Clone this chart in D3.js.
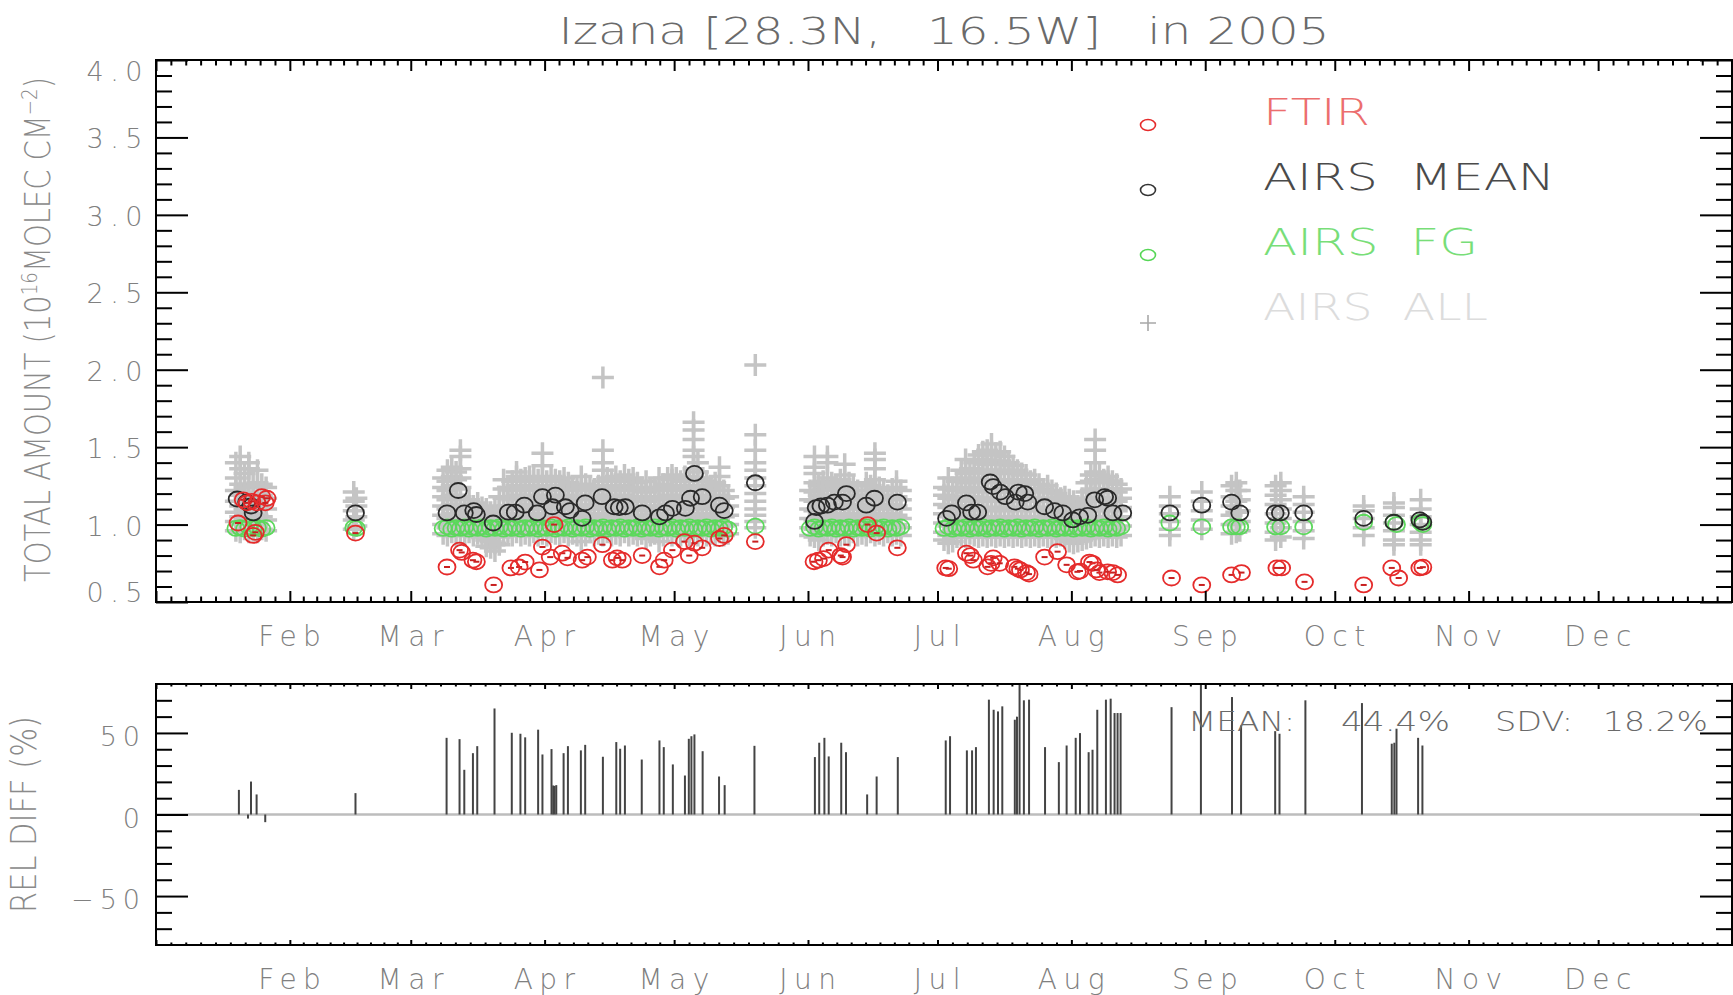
<!DOCTYPE html>
<html>
<head>
<meta charset="utf-8">
<script src="https://cdn.jsdelivr.net/npm/d3@7"></script>
<style>
  html, body { margin: 0; padding: 0; background: #fff; }
  svg { display: block; }
  text { font-weight: 200; }
</style>
</head>
<body>
<svg id="chart" width="1733" height="995"></svg>
<script>
// ---------------------------------------------------------------
// Izana CO total column, 2005: FTIR vs AIRS
// Dates are day-of-year (1 = 1 Jan 2005), fractional where the
// observation falls part way through a day.
// ---------------------------------------------------------------

const monthLabels = ["Feb","Mar","Apr","May","Jun","Jul","Aug","Sep","Oct","Nov","Dec"];
const amountTicks = [0.5, 1.0, 1.5, 2.0, 2.5, 3.0, 3.5, 4.0];
const diffTicks = [-50, 0, 50];
const diffTickLabels = ["\u221250", "0", "50"];

// FTIR ground-based retrievals [day, total amount]
const ftir = [
  [20.0,1.01],[21.2,1.16],[22.1,1.14],[23.2,1.15],[24.4,1.14],[25.5,1.18],[26.3,1.14],[26.7,1.17],
  [23.5,0.93],[24.0,0.95],
  [47.2,0.945],
  [68.4,0.726],[71.3,0.835],[71.8,0.82],[74.4,0.77],[75.2,0.76],[79.2,0.61],[83.2,0.72],
  [85.1,0.726],[86.5,0.758],[89.8,0.707],[90.5,0.855],[92.3,0.79],[93.2,1.0],[95.1,0.815],[96.3,0.785],
  [99.7,0.77],[100.9,0.79],[104.4,0.87],[106.7,0.77],[107.8,0.785],[109.0,0.77],[113.6,0.80],[117.6,0.727],
  [118.7,0.77],[120.6,0.835],[123.4,0.89],[124.5,0.80],[125.7,0.88],[127.5,0.85],[131.5,0.91],[132.6,0.93],
  [139.8,0.89],
  [153.4,0.76],[154.4,0.77],[155.6,0.78],[156.8,0.835],[159.6,0.80],[160.0,0.79],[160.9,0.87],[165.8,1.0],
  [167.9,0.945],[172.7,0.85],
  [183.9,0.72],[184.6,0.715],[188.7,0.815],[189.6,0.80],[190.3,0.77],[193.6,0.727],[194.4,0.75],[194.9,0.785],
  [196.4,0.75],[199.8,0.727],[200.6,0.715],[201.2,0.707],[202.6,0.69],[203.2,0.68],[206.8,0.79],[209.8,0.825],
  [211.9,0.74],[214.4,0.695],[215.0,0.70],[217.2,0.758],[217.9,0.75],[218.8,0.707],[219.5,0.69],[221.4,0.695],
  [222.6,0.69],[223.7,0.675],
  [236.2,0.655],[243.2,0.61],[250.1,0.675],[252.4,0.69],[260.6,0.72],[261.7,0.72],[267.0,0.63],[280.7,0.61],
  [287.2,0.72],[288.8,0.655],[293.7,0.72],[294.4,0.725]
];

// AIRS daily mean over the site [day, total amount]
const airsMean = [
  [19.8,1.165],[22.0,1.145],[23.0,1.12],[23.5,1.075],
  [47.2,1.075],
  [68.4,1.075],[71.0,1.22],[72.4,1.075],[74.6,1.09],[75.2,1.065],[79.1,1.01],[82.6,1.08],
  [84.2,1.08],[86.3,1.125],[89.3,1.075],[90.5,1.18],[92.8,1.115],[93.5,1.19],[95.8,1.115],[96.9,1.09],
  [99.7,1.04],[100.4,1.14],[104.3,1.18],[107.1,1.115],[108.3,1.11],[109.7,1.115],[113.6,1.075],[117.6,1.05],
  [119.0,1.075],[120.6,1.105],[123.6,1.105],[124.8,1.17],[125.7,1.33],[127.5,1.18],[131.5,1.125],[132.6,1.09],
  [139.8,1.27],
  [153.5,1.02],[153.9,1.11],[155.0,1.12],[156.5,1.125],[158.1,1.145],[160.0,1.145],[160.9,1.20],[165.5,1.125],
  [167.4,1.17],[172.7,1.145],
  [184.1,1.04],[185.3,1.075],[188.7,1.14],[189.9,1.08],[191.3,1.08],[194.2,1.275],[194.9,1.245],[196.5,1.21],
  [197.7,1.18],[200.0,1.145],[200.7,1.21],[202.2,1.20],[202.9,1.145],[206.8,1.115],[209.1,1.09],[211.0,1.075],
  [213.3,1.03],[214.9,1.05],[216.8,1.06],[218.4,1.16],[220.7,1.18],[221.4,1.17],[222.6,1.075],[224.9,1.075],
  [235.8,1.075],[243.2,1.125],[250.1,1.145],[252.0,1.075],[260.2,1.075],[261.4,1.075],[266.8,1.075],
  [280.7,1.04],[287.7,1.015],[293.7,1.03],[294.4,1.015]
];

// AIRS first guess [day, total amount]
const airsFg = [
  [19.5,0.975],[20.5,0.98],[21.5,0.97],[22.5,0.985],[23.5,0.975],[24.5,0.98],[25.5,0.97],[26.5,0.98],
  [46.8,0.98],[47.4,0.975],
  [67.5,0.975],[68.5,0.985],[69.5,0.97],[70.5,0.98],[71.5,0.975],[72.5,0.985],[73.5,0.97],[74.5,0.98],
  [75.5,0.975],[76.5,0.985],[77.5,0.97],[78.5,0.98],[79.5,0.975],[80.5,0.985],[81.5,0.97],[82.5,0.98],
  [83.5,0.975],[84.5,0.985],[85.5,0.97],[86.5,0.98],[87.5,0.975],[88.5,0.985],[89.5,0.97],[90.5,0.98],
  [91.5,0.975],[92.5,0.985],[93.5,0.97],[94.5,0.98],[95.5,0.975],[96.5,0.985],[97.5,0.97],[98.5,0.98],
  [99.5,0.975],[100.5,0.985],[101.5,0.97],[102.5,0.98],[103.5,0.975],[104.5,0.985],[105.5,0.97],[106.5,0.98],
  [107.5,0.975],[108.5,0.985],[109.5,0.97],[110.5,0.98],[111.5,0.975],[112.5,0.985],[113.5,0.97],[114.5,0.98],
  [115.5,0.975],[116.5,0.985],[117.5,0.97],[118.5,0.98],[119.5,0.975],[120.5,0.985],[121.5,0.97],[122.5,0.98],
  [123.5,0.975],[124.5,0.985],[125.5,0.97],[126.5,0.98],[127.5,0.975],[128.5,0.985],[129.5,0.97],[130.5,0.98],
  [131.5,0.975],[132.5,0.985],[133.5,0.97],
  [139.8,0.99],
  [152.5,0.975],[153.5,0.985],[154.5,0.97],[155.5,0.98],[156.5,0.975],[157.5,0.985],[158.5,0.97],[159.5,0.98],
  [160.5,0.975],[161.5,0.985],[162.5,0.97],[163.5,0.98],[164.5,0.975],[165.5,0.985],[166.5,0.97],[167.5,0.98],
  [168.5,0.975],[169.5,0.985],[170.5,0.97],[171.5,0.98],[172.5,0.975],[173.5,0.985],
  [183.5,0.975],[184.5,0.985],[185.5,0.97],[186.5,0.98],[187.5,0.975],[188.5,0.985],[189.5,0.97],[190.5,0.98],
  [191.5,0.975],[192.5,0.985],[193.5,0.97],[194.5,0.98],[195.5,0.975],[196.5,0.985],[197.5,0.97],[198.5,0.98],
  [199.5,0.975],[200.5,0.985],[201.5,0.97],[202.5,0.98],[203.5,0.975],[204.5,0.985],[205.5,0.97],[206.5,0.98],
  [207.5,0.975],[208.5,0.985],[209.5,0.97],[210.5,0.98],[211.5,0.975],[212.5,0.985],[213.5,0.97],[214.5,0.98],
  [215.5,0.975],[216.5,0.985],[217.5,0.97],[218.5,0.98],[219.5,0.975],[220.5,0.985],[221.5,0.97],[222.5,0.98],
  [223.5,0.975],[224.5,0.985],
  [235.8,1.01],[243.2,0.985],[250.1,0.985],[251.2,0.985],[252.0,0.985],[260.3,0.985],[261.5,0.985],
  [266.8,0.985],[280.7,1.015],[287.7,1.015],[288.3,1.0],[293.9,1.015],[294.4,1.0]
];

// Every AIRS retrieval near the site [day, [total amounts]]
const airsAll = [
  [19.5,[0.96,1.02,1.08,1.15,1.22,1.30,1.40]],
  [20.5,[0.95,1.00,1.05,1.12,1.19,1.26,1.36,1.44]],
  [21.5,[0.97,1.03,1.10,1.17,1.24,1.33]],
  [22.5,[0.95,1.01,1.07,1.14,1.20,1.26,1.36,1.40]],
  [23.5,[0.96,1.04,1.11,1.18,1.25]],
  [24.5,[0.95,1.00,1.06,1.13,1.20,1.27,1.35]],
  [25.5,[0.97,1.05,1.12,1.19,1.26]],
  [26.5,[0.96,1.03,1.10,1.17,1.24]],
  [46.8,[0.97,1.03,1.09,1.15,1.21]],
  [47.4,[0.99,1.05,1.12,1.17]],
  [67.5,[0.94,1.00,1.06,1.12,1.18,1.24,1.30]],
  [68.5,[0.93,0.98,1.04,1.10,1.16,1.22,1.28,1.35]],
  [69.5,[0.95,1.01,1.07,1.13,1.19,1.25,1.31,1.37]],
  [70.5,[0.93,0.99,1.05,1.11,1.17,1.23,1.29,1.34]],
  [71.5,[0.94,1.00,1.06,1.12,1.18,1.24,1.30,1.36,1.44,1.48]],
  [72.5,[0.93,0.98,1.03,1.08,1.13]],
  [73.5,[0.95,1.00,1.05,1.10,1.16]],
  [74.5,[0.93,0.97,1.02,1.07,1.12]],
  [75.5,[0.94,0.99,1.04,1.09,1.14]],
  [76.5,[0.92,0.97,1.02,1.07,1.11]],
  [77.5,[0.86,0.90,0.95,1.00,1.05,1.10]],
  [78.5,[0.85,0.89,0.93,0.98,1.03,1.08]],
  [79.5,[0.83,0.88,0.93,0.98,1.04,1.12]],
  [80.5,[0.87,0.92,0.97,1.03,1.10,1.18]],
  [81.5,[0.93,0.99,1.05,1.11,1.17,1.23,1.29]],
  [82.5,[0.94,1.00,1.06,1.12,1.18,1.24]],
  [83.5,[0.93,0.98,1.04,1.10,1.16,1.22,1.28]],
  [84.5,[0.95,1.01,1.07,1.13,1.19,1.25,1.31,1.34]],
  [85.5,[0.93,0.99,1.05,1.11,1.17,1.23,1.29]],
  [86.5,[0.94,1.00,1.06,1.12,1.18,1.24,1.30]],
  [87.5,[0.93,0.98,1.04,1.10,1.16,1.22,1.28,1.31]],
  [88.5,[0.95,1.01,1.07,1.13,1.19,1.25,1.30]],
  [89.5,[0.93,0.99,1.05,1.11,1.17,1.23,1.29]],
  [90.5,[0.94,1.00,1.06,1.12,1.18,1.24,1.30,1.38,1.46]],
  [91.5,[0.93,0.98,1.04,1.10,1.16,1.22,1.28]],
  [92.5,[0.95,1.01,1.07,1.13,1.19,1.25,1.31]],
  [93.5,[0.94,1.00,1.06,1.12,1.18,1.24,1.29]],
  [94.5,[0.93,0.99,1.05,1.11,1.17,1.23,1.28]],
  [95.5,[0.95,1.01,1.07,1.13,1.19,1.25,1.30]],
  [96.5,[0.93,0.98,1.04,1.10,1.16,1.22,1.27]],
  [97.5,[0.94,1.00,1.06,1.12,1.18,1.23]],
  [98.5,[0.93,0.99,1.05,1.11,1.17,1.24]],
  [99.5,[0.89,0.94,1.00,1.06,1.12,1.18,1.25,1.31]],
  [100.5,[0.93,0.98,1.04,1.10,1.16,1.22,1.26]],
  [101.5,[0.95,1.01,1.07,1.13,1.19,1.24]],
  [102.5,[0.93,0.99,1.05,1.11,1.17,1.23]],
  [103.5,[0.94,1.00,1.06,1.12,1.18,1.25]],
  [104.5,[0.93,0.98,1.04,1.10,1.16,1.22,1.28,1.35,1.40,1.48,1.95]],
  [105.5,[0.95,1.01,1.07,1.13,1.19,1.25,1.30]],
  [106.5,[0.93,0.99,1.05,1.11,1.17,1.23,1.29]],
  [107.5,[0.94,1.00,1.06,1.12,1.18,1.24,1.31]],
  [108.5,[0.93,0.98,1.04,1.10,1.16,1.22,1.28]],
  [109.5,[0.95,1.01,1.07,1.13,1.19,1.25,1.32]],
  [110.5,[0.93,0.99,1.05,1.11,1.17,1.23,1.29]],
  [111.5,[0.94,1.00,1.06,1.12,1.18,1.24,1.30]],
  [112.5,[0.93,0.98,1.04,1.10,1.16,1.22,1.27]],
  [113.5,[0.94,1.00,1.06,1.12,1.18,1.24]],
  [114.5,[0.91,0.97,1.03,1.09,1.15,1.21,1.28]],
  [115.5,[0.93,0.99,1.05,1.11,1.17,1.23]],
  [116.5,[0.94,1.00,1.06,1.12,1.18,1.24]],
  [117.5,[0.89,0.94,0.99,1.05,1.11,1.17,1.23,1.30]],
  [118.5,[0.93,0.98,1.04,1.10,1.16,1.22,1.26]],
  [119.5,[0.95,1.01,1.07,1.13,1.19,1.25,1.30]],
  [120.5,[0.93,0.99,1.05,1.11,1.17,1.23,1.29,1.32]],
  [121.5,[0.94,1.00,1.06,1.12,1.18,1.24,1.30]],
  [122.5,[0.93,0.98,1.04,1.10,1.16,1.22,1.28]],
  [123.5,[0.95,1.01,1.07,1.13,1.19,1.25,1.31]],
  [124.5,[0.93,0.99,1.05,1.11,1.17,1.23,1.29]],
  [125.5,[0.94,1.00,1.06,1.12,1.18,1.24,1.30,1.36,1.44,1.48,1.55,1.61,1.66]],
  [126.5,[0.93,0.98,1.04,1.10,1.16,1.22,1.28,1.34,1.40]],
  [127.5,[0.95,1.01,1.07,1.13,1.19,1.25,1.30]],
  [128.5,[0.93,0.99,1.05,1.11,1.17,1.23,1.28]],
  [129.5,[0.94,1.00,1.06,1.12,1.18,1.24]],
  [130.5,[0.93,0.98,1.04,1.10,1.16,1.22,1.27]],
  [131.5,[0.95,1.01,1.07,1.13,1.19,1.25,1.31,1.37]],
  [132.5,[0.93,0.99,1.05,1.11,1.17,1.22]],
  [133.5,[0.94,1.00,1.06,1.12,1.18]],
  [139.8,[0.98,1.02,1.06,1.10,1.15,1.20,1.25,1.30,1.35,1.40,1.48,1.58,2.03]],
  [152.5,[0.93,0.98,1.04,1.10,1.16,1.22]],
  [153.5,[0.92,0.97,1.03,1.09,1.15,1.21,1.27,1.33,1.37,1.44]],
  [154.5,[0.90,0.95,1.01,1.07,1.13,1.19,1.25]],
  [155.5,[0.93,0.99,1.05,1.11,1.17,1.23,1.28]],
  [156.5,[0.94,1.00,1.06,1.12,1.18,1.24,1.30,1.40,1.44]],
  [157.5,[0.93,0.98,1.04,1.10,1.16,1.22,1.27]],
  [158.5,[0.95,1.01,1.07,1.13,1.19,1.25]],
  [159.5,[0.93,0.99,1.05,1.11,1.17,1.23,1.29]],
  [160.5,[0.94,1.00,1.06,1.12,1.18,1.24,1.32,1.39]],
  [161.5,[0.93,0.98,1.04,1.10,1.16,1.22,1.27]],
  [162.5,[0.95,1.01,1.07,1.13,1.19,1.25]],
  [163.5,[0.93,0.99,1.05,1.11,1.17,1.22]],
  [164.5,[0.94,1.00,1.06,1.12,1.18]],
  [165.5,[0.93,0.98,1.04,1.10,1.16,1.22,1.27]],
  [166.5,[0.95,1.01,1.07,1.13,1.19,1.25]],
  [167.5,[0.93,0.99,1.05,1.11,1.17,1.23,1.29,1.36,1.42,1.46]],
  [168.5,[0.94,1.00,1.06,1.12,1.18,1.24]],
  [169.5,[0.93,0.98,1.04,1.10,1.16,1.22]],
  [170.5,[0.95,1.01,1.07,1.13,1.19]],
  [171.5,[0.93,0.99,1.05,1.11,1.17,1.23]],
  [172.5,[0.94,1.00,1.06,1.12,1.18,1.24,1.28]],
  [173.5,[0.93,0.98,1.04,1.10,1.16,1.22]],
  [183.5,[0.90,0.95,1.01,1.07,1.13,1.19,1.24]],
  [184.5,[0.88,0.93,0.99,1.05,1.11,1.17,1.23,1.30]],
  [185.5,[0.89,0.94,1.00,1.06,1.12,1.18,1.24]],
  [186.5,[0.92,0.98,1.04,1.10,1.16,1.22,1.28]],
  [187.5,[0.93,0.99,1.05,1.11,1.17,1.23,1.29,1.35]],
  [188.5,[0.92,0.97,1.03,1.09,1.15,1.21,1.27,1.33,1.42]],
  [189.5,[0.94,1.00,1.06,1.12,1.18,1.24,1.30,1.36]],
  [190.5,[0.93,0.98,1.04,1.10,1.16,1.22,1.28,1.34,1.40]],
  [191.5,[0.92,0.98,1.04,1.10,1.16,1.22,1.28,1.34,1.41,1.45]],
  [192.5,[0.93,0.99,1.05,1.11,1.17,1.23,1.29,1.35,1.42,1.47]],
  [193.5,[0.92,0.97,1.03,1.09,1.15,1.21,1.27,1.33,1.39,1.45,1.48]],
  [194.5,[0.93,0.99,1.05,1.11,1.17,1.23,1.29,1.35,1.41,1.47,1.52]],
  [195.5,[0.92,0.98,1.04,1.10,1.16,1.22,1.28,1.34,1.40,1.46]],
  [196.5,[0.93,0.99,1.05,1.11,1.17,1.23,1.29,1.35,1.41,1.47]],
  [197.5,[0.92,0.97,1.03,1.09,1.15,1.21,1.27,1.33,1.39,1.44]],
  [198.5,[0.93,0.99,1.05,1.11,1.17,1.23,1.29,1.35,1.40]],
  [199.5,[0.92,0.98,1.04,1.10,1.16,1.22,1.28,1.34,1.38]],
  [200.5,[0.93,0.99,1.05,1.11,1.17,1.23,1.29,1.35]],
  [201.5,[0.92,0.97,1.03,1.09,1.15,1.21,1.27,1.33]],
  [202.5,[0.93,0.99,1.05,1.11,1.17,1.23,1.29,1.32]],
  [203.5,[0.92,0.98,1.04,1.10,1.16,1.22,1.28]],
  [204.5,[0.93,0.99,1.05,1.11,1.17,1.23,1.29]],
  [205.5,[0.92,0.97,1.03,1.09,1.15,1.21,1.26]],
  [206.5,[0.93,0.99,1.05,1.11,1.17,1.23]],
  [207.5,[0.92,0.98,1.04,1.10,1.16,1.22,1.25]],
  [208.5,[0.93,0.99,1.05,1.11,1.17,1.22]],
  [209.5,[0.92,0.97,1.03,1.09,1.15,1.20]],
  [210.5,[0.93,0.99,1.05,1.11,1.17]],
  [211.5,[0.91,0.96,1.02,1.08,1.14,1.18]],
  [212.5,[0.89,0.94,1.00,1.06,1.12,1.16]],
  [213.5,[0.88,0.93,0.99,1.05,1.11,1.15]],
  [214.5,[0.89,0.94,1.00,1.06,1.12]],
  [215.5,[0.90,0.95,1.01,1.07,1.13,1.17]],
  [216.5,[0.91,0.97,1.03,1.09,1.15,1.21,1.27]],
  [217.5,[0.92,0.98,1.04,1.10,1.16,1.22,1.28,1.32]],
  [218.5,[0.93,0.99,1.05,1.11,1.17,1.23,1.29,1.34,1.40,1.48,1.55]],
  [219.5,[0.92,0.97,1.03,1.09,1.15,1.21,1.27,1.32]],
  [220.5,[0.93,0.99,1.05,1.11,1.17,1.23,1.29]],
  [221.5,[0.92,0.98,1.04,1.10,1.16,1.22,1.28,1.31]],
  [222.5,[0.93,0.99,1.05,1.11,1.17,1.23,1.28]],
  [223.5,[0.92,0.97,1.03,1.09,1.15,1.21,1.26]],
  [224.5,[0.93,0.99,1.05,1.11,1.17,1.23]],
  [235.8,[0.93,0.97,1.02,1.07,1.12,1.18]],
  [243.2,[0.97,1.03,1.09,1.15,1.21]],
  [250.1,[0.94,1.00,1.06,1.12,1.18,1.25]],
  [251.2,[0.95,1.01,1.08,1.15,1.22,1.27]],
  [252.0,[0.96,1.02,1.09,1.16,1.22]],
  [260.3,[0.90,0.95,1.01,1.07,1.13,1.19,1.25]],
  [261.5,[0.92,0.98,1.04,1.10,1.16,1.22,1.27]],
  [266.8,[0.91,0.96,1.02,1.08,1.13,1.18]],
  [280.7,[0.93,0.98,1.04,1.09,1.12]],
  [287.7,[0.87,0.90,0.96,1.01,1.06,1.11,1.14]],
  [293.9,[0.87,0.90,0.95,1.00,1.05,1.10,1.16]]
];

// Relative difference AIRS vs FTIR, percent [day, value]
const relDiff = [
  [20.2,15.1],[22.3,-2.5],[23.0,20.2],[24.3,12.3],[26.3,-4.7],
  [47.2,13.1],
  [68.3,47.0],[71.3,46.2],[72.4,27.4],[74.4,37.6],[75.4,41.9],[79.4,65.0],[83.4,50.1],[85.4,49.5],
  [86.5,47.3],[89.5,52.0],[90.5,36.8],[92.6,40.1],[93.0,17.8],[93.3,17.5],[93.7,18.0],[95.4,37.6],
  [96.4,41.9],[99.4,39.3],[100.4,42.7],[104.5,35.4],[107.6,44.4],[108.5,40.3],[109.6,42.3],[113.5,33.7],
  [117.6,45.4],[118.6,41.3],[120.7,30.7],[123.5,23.9],[124.4,46.4],[125.0,48.0],[125.7,49.1],[127.6,38.8],
  [131.4,23.3],[132.7,18.0],[139.6,42.1],
  [153.6,35.2],[154.6,44.0],[155.8,47.0],[156.8,35.6],[159.7,44.0],[160.8,38.2],[165.7,12.3],[167.9,23.3],
  [172.8,35.2],
  [183.9,45.4],[184.9,48.0],[188.8,39.3],[190.0,39.3],[190.9,41.3],[193.9,70.4],[195.0,64.2],[196.0,63.2],
  [197.0,66.3],[199.9,58.1],[200.4,60.0],[201.0,80.0],[202.0,70.0],[203.2,70.4],[206.9,41.3],[210.1,32.1],
  [211.9,42.3],[214.0,47.0],[215.0,49.9],[217.0,38.2],[217.9,39.7],[219.0,64.2],[221.0,70.4],[222.1,71.0],
  [223.0,62.2],[223.7,62.2],[224.4,62.2],
  [236.2,65.8],[243.0,80.0],[250.2,72.0],[252.3,54.6],[260.2,51.1],[261.2,49.5],[267.2,70.0],[280.3,68.3],
  [287.2,43.4],[287.8,44.0],[288.3,52.6],[293.3,47.0],[294.3,42.3]
];

const diffMean = "44.4%";
const diffSdv = "18.2%";

// ---------------------------------------------------------------
const FONT = "'DejaVu Sans', 'Liberation Sans', sans-serif";
const svg = d3.select("#chart");

const L = 156, R = 1732;
const top1 = 60, bot1 = 602;     // upper panel
const top2 = 684, bot2 = 945;    // lower panel

const t0 = Date.UTC(2005, 0, 1), t1 = Date.UTC(2006, 0, 1);
const x = d3.scaleUtc().domain([new Date(t0), new Date(t1)]).range([L, R]);
const dayDate = d => new Date(t0 + (d - 1) * 864e5);
const xd = d => x(dayDate(d));

const yA = d3.scaleLinear().domain([0.5, 4.0]).range([bot1, top1]);
const yD = d3.scaleLinear().domain([-80, 80]).range([bot2, top2]);

const monthStarts = d3.utcMonth.range(new Date(t0), new Date(t1));
const monthMinor = [];
monthStarts.forEach(m => {
  const n = d3.utcMonth.offset(m, 1);
  for (let k = 1; k < 9; k++) monthMinor.push(new Date(+m + k * (n - m) / 9));
});

function styleAxis(g) {
  g.select(".domain").remove();
  g.selectAll(".tick line").attr("stroke", "#000").attr("stroke-width", 2);
  g.selectAll(".tick text").remove();
}

function panelFrame(yScale, yTop, yBot, majorY, minorY) {
  const h = yBot - yTop;
  const xMaj = Math.round(h * 0.02), xMin = xMaj / 2;
  const yMaj = 32, yMin = 16;
  const ax = svg.append("g");
  ax.append("g").attr("transform", `translate(0,${yBot})`)
    .call(d3.axisBottom(x).tickValues(monthStarts).tickSize(-xMaj).tickSizeOuter(0)).call(styleAxis);
  ax.append("g").attr("transform", `translate(0,${yBot})`)
    .call(d3.axisBottom(x).tickValues(monthMinor).tickSize(-xMin).tickSizeOuter(0)).call(styleAxis);
  ax.append("g").attr("transform", `translate(0,${yTop})`)
    .call(d3.axisTop(x).tickValues(monthStarts).tickSize(-xMaj).tickSizeOuter(0)).call(styleAxis);
  ax.append("g").attr("transform", `translate(0,${yTop})`)
    .call(d3.axisTop(x).tickValues(monthMinor).tickSize(-xMin).tickSizeOuter(0)).call(styleAxis);
  ax.append("g").attr("transform", `translate(${L},0)`)
    .call(d3.axisLeft(yScale).tickValues(majorY).tickSize(-yMaj).tickSizeOuter(0)).call(styleAxis);
  ax.append("g").attr("transform", `translate(${L},0)`)
    .call(d3.axisLeft(yScale).tickValues(minorY).tickSize(-yMin).tickSizeOuter(0)).call(styleAxis);
  ax.append("g").attr("transform", `translate(${R},0)`)
    .call(d3.axisRight(yScale).tickValues(majorY).tickSize(-yMaj).tickSizeOuter(0)).call(styleAxis);
  ax.append("g").attr("transform", `translate(${R},0)`)
    .call(d3.axisRight(yScale).tickValues(minorY).tickSize(-yMin).tickSizeOuter(0)).call(styleAxis);
  ax.append("rect").attr("x", L).attr("y", yTop).attr("width", R - L).attr("height", yBot - yTop)
    .attr("fill", "none").attr("stroke", "#000").attr("stroke-width", 2);

  // month names under the panel
  svg.append("g").selectAll("text").data(monthStarts.slice(1)).join("text")
    .attr("x", d => x(d) + 3).attr("y", yBot + 44)
    .attr("text-anchor", "middle")
    .attr("font-family", FONT).attr("font-size", 28).attr("letter-spacing", 6.5)
    .attr("fill", "#808080")
    .text((d, i) => monthLabels[i]);
}

// ---- clip paths ----
const defs = svg.append("defs");
defs.append("clipPath").attr("id", "clipA").append("rect")
  .attr("x", L).attr("y", top1).attr("width", R - L).attr("height", bot1 - top1);
defs.append("clipPath").attr("id", "clipD").append("rect")
  .attr("x", L).attr("y", top2).attr("width", R - L).attr("height", bot2 - top2);

// ---- title ----
svg.append("text")
  .attr("x", (L + R) / 2).attr("y", 44)
  .attr("text-anchor", "middle")
  .attr("font-family", FONT).attr("font-size", 38)
  .attr("fill", "#6a6a6a")
  .attr("textLength", 771).attr("lengthAdjust", "spacingAndGlyphs")
  .style("white-space", "pre")
  .text("Izana [28.3N,   16.5W]   in 2005");

// ================= upper panel =================
const plotA = svg.append("g").attr("clip-path", "url(#clipA)");

// AIRS all retrievals: plus signs
const allPts = airsAll.flatMap(([d, vs]) => vs.map(v => [d, v]));
plotA.append("g").selectAll("path").data(allPts).join("path")
  .attr("transform", d => `translate(${xd(d[0])},${yA(d[1])})`)
  .attr("d", "M-11,0H11M0,-11V11")
  .attr("stroke", "#c4c4c4").attr("stroke-width", 3.5).attr("fill", "none");

// AIRS first guess
plotA.append("g").selectAll("ellipse").data(airsFg).join("ellipse")
  .attr("cx", d => xd(d[0])).attr("cy", d => yA(d[1]))
  .attr("rx", 8.5).attr("ry", 7.5)
  .attr("fill", "none").attr("stroke", "#5cd85c").attr("stroke-width", 1.8);

// AIRS daily mean
plotA.append("g").selectAll("ellipse").data(airsMean).join("ellipse")
  .attr("cx", d => xd(d[0])).attr("cy", d => yA(d[1]))
  .attr("rx", 8.5).attr("ry", 7.5)
  .attr("fill", "none").attr("stroke", "#2a2a2a").attr("stroke-width", 1.8);

// FTIR
const ft = plotA.append("g").selectAll("g").data(ftir).join("g")
  .attr("transform", d => `translate(${xd(d[0])},${yA(d[1])})`);
ft.append("ellipse").attr("rx", 8.5).attr("ry", 7.5)
  .attr("fill", "none").attr("stroke", "#e52b2b").attr("stroke-width", 1.8);
ft.append("path").attr("d", "M-3,0H3")
  .attr("stroke", "#c82020").attr("stroke-width", 2);

panelFrame(yA, top1, bot1, amountTicks,
  d3.range(5, 41).map(v => v / 10).filter(v => !amountTicks.includes(v)));

// y tick labels, upper panel
svg.append("g").selectAll("text").data(amountTicks).join("text")
  .attr("x", 149)
  .attr("y", d => d === 4.0 ? yA(d) + 21 : d === 0.5 ? yA(d) + 0 : yA(d) + 11)
  .attr("text-anchor", "end")
  .attr("font-family", FONT).attr("font-size", 27).attr("letter-spacing", 6.5)
  .attr("fill", "#808080")
  .text(d3.format(".1f"));

// y axis title, upper panel
const yt = svg.append("text")
  .attr("transform", `translate(50,${(77 + 582) / 2}) rotate(-90)`)
  .attr("text-anchor", "middle")
  .attr("font-family", FONT).attr("font-size", 35)
  .attr("fill", "#8a8a8a")
  .attr("textLength", 505).attr("lengthAdjust", "spacingAndGlyphs");
yt.append("tspan").text("TOTAL AMOUNT (10");
yt.append("tspan").attr("font-size", 22).attr("dy", -13).text("16");
yt.append("tspan").attr("dy", 13).text("MOLEC CM");
yt.append("tspan").attr("font-size", 22).attr("dy", -13).text("\u22122");
yt.append("tspan").attr("dy", 13).text(")");

// legend
const legend = [
  { label: "FTIR",       color: "#ec6e6e", sym: "circle", mark: "#e52b2b", y: 125, w: 107 },
  { label: "AIRS  MEAN", color: "#4a4a4a", sym: "circle", mark: "#333",    y: 190, w: 292 },
  { label: "AIRS  FG",   color: "#78de78", sym: "circle", mark: "#55d655", y: 255, w: 215 },
  { label: "AIRS  ALL",  color: "#dcdcdc", sym: "plus",   mark: "#a8a8a8", y: 320, w: 225 }
];
const lg = svg.append("g").selectAll("g").data(legend).join("g");
lg.filter(d => d.sym === "circle").append("ellipse")
  .attr("cx", 1148).attr("cy", d => d.y).attr("rx", 7.5).attr("ry", 5.5)
  .attr("fill", "none").attr("stroke", d => d.mark).attr("stroke-width", 1.6);
lg.filter(d => d.sym === "plus").append("path")
  .attr("transform", d => `translate(1148,${d.y + 3})`)
  .attr("d", "M-8,0H8M0,-8V8")
  .attr("stroke", d => d.mark).attr("stroke-width", 1.6).attr("fill", "none");
lg.append("text")
  .attr("x", 1263).attr("y", d => d.y)
  .attr("font-family", FONT).attr("font-size", 38)
  .attr("fill", d => d.color)
  .attr("textLength", d => d.w).attr("lengthAdjust", "spacingAndGlyphs")
  .style("white-space", "pre")
  .text(d => d.label);

// ================= lower panel =================
const plotD = svg.append("g").attr("clip-path", "url(#clipD)");
plotD.append("line")
  .attr("x1", L).attr("x2", R).attr("y1", yD(0)).attr("y2", yD(0))
  .attr("stroke", "#bdbdbd").attr("stroke-width", 2.5);
plotD.append("g").selectAll("line").data(relDiff).join("line")
  .attr("x1", d => xd(d[0])).attr("x2", d => xd(d[0]))
  .attr("y1", yD(0)).attr("y2", d => yD(d[1]))
  .attr("stroke", "#444").attr("stroke-width", 2);

panelFrame(yD, top2, bot2, diffTicks,
  d3.range(-70, 80, 10).filter(v => !diffTicks.includes(v)));

svg.append("g").selectAll("text").data(diffTicks).join("text")
  .attr("x", 146)
  .attr("y", d => yD(d) + 13)
  .attr("text-anchor", "end")
  .attr("font-family", FONT).attr("font-size", 27).attr("letter-spacing", 6)
  .attr("fill", "#808080")
  .text((d, i) => diffTickLabels[i]);

svg.append("text")
  .attr("transform", `translate(36,${(716 + 913) / 2}) rotate(-90)`)
  .attr("text-anchor", "middle")
  .attr("font-family", FONT).attr("font-size", 35)
  .attr("fill", "#8a8a8a")
  .attr("textLength", 197).attr("lengthAdjust", "spacingAndGlyphs")
  .text("REL DIFF (%)");

// summary statistics
const stat = [
  { t: "MEAN:", x: 1188, w: 107 },
  { t: diffMean, x: 1341, w: 109 },
  { t: "SDV:", x: 1495, w: 78 },
  { t: diffSdv, x: 1603, w: 105 }
];
svg.append("g").selectAll("text").data(stat).join("text")
  .attr("x", d => d.x).attr("y", 731)
  .attr("font-family", FONT).attr("font-size", 26)
  .attr("fill", "#6a6a6a")
  .attr("textLength", d => d.w).attr("lengthAdjust", "spacingAndGlyphs")
  .text(d => d.t);
</script>
</body>
</html>
